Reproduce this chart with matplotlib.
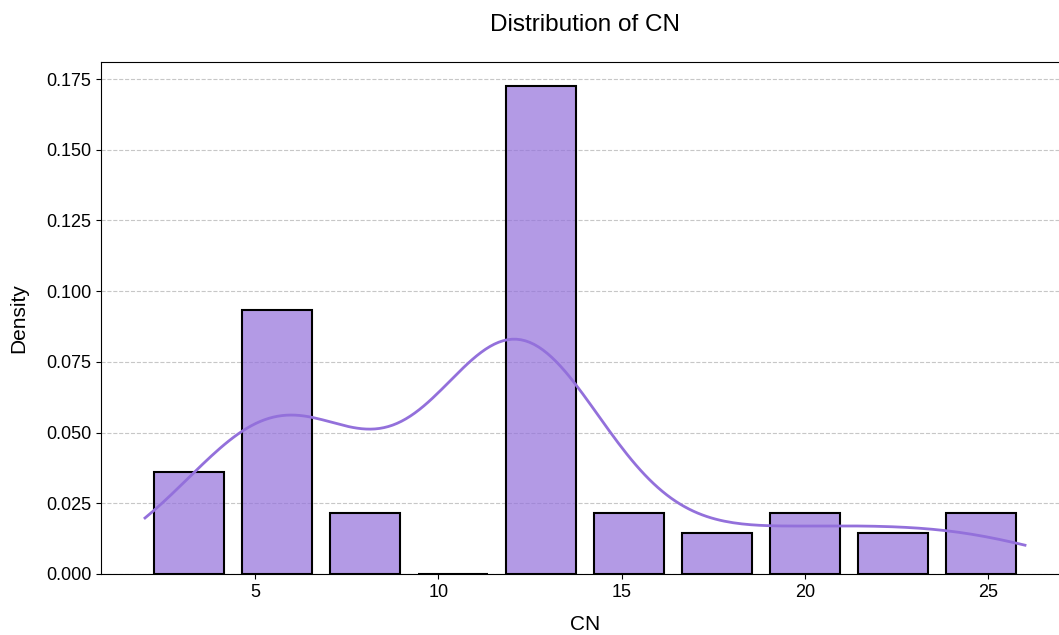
import numpy as np
import pandas as pd
import matplotlib
matplotlib.use("Agg")
import matplotlib.pyplot as plt
import seaborn as sns

# Raw CN values (value -> count), estimated from the histogram and KDE
cn_values = [2, 3, 4, 5, 6, 8, 9, 12, 13, 14, 15, 17, 18, 19, 20, 21, 22, 23, 24, 25, 26]
cn_counts = [1, 1, 8, 2, 24, 3, 3, 44, 4, 2, 4, 2, 2, 2, 2, 2, 2, 2, 2, 2, 2]

cn = np.repeat(cn_values, cn_counts)
df = pd.DataFrame({"CN": cn})

plt.rcParams['font.family'] = ['Liberation Sans', 'DejaVu Sans']

fig = plt.figure(figsize=(10.59, 6.35), dpi=100)
ax = fig.add_axes([101/1059, 61/635, 968/1059, 512/635])

sns.histplot(data=df, x="CN", bins=10, stat="density", kde=True,
             color="mediumpurple", alpha=0.7, edgecolor="black",
             linewidth=1.5, shrink=0.8, ax=ax,
             line_kws={"linewidth": 2})

ax.set_title("Distribution of CN", fontsize=17.5, pad=22)
ax.set_xlabel("CN", fontsize=15, labelpad=10)
ax.set_ylabel("Density", fontsize=15, labelpad=13)
ax.tick_params(labelsize=13)
ax.grid(axis="y", linestyle="--", alpha=0.7)
ax.set_axisbelow(True)

fig.savefig("out.png", dpi=100)
